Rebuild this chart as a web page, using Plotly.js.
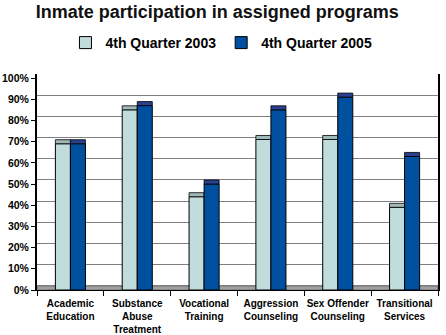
<!DOCTYPE html>
<html>
<head>
<meta charset="utf-8">
<script src="https://cdn.plot.ly/plotly-3.0.1.min.js"></script>
<style>
html,body{margin:0;padding:0;background:#fff;}
#chart{width:446px;height:335px;}
</style>
</head>
<body>
<div id="chart"></div>
<script>
// ---- data ----
const categories = [
  "Academic<br>Education",
  "Substance<br>Abuse<br>Treatment",
  "Vocational<br>Training",
  "Aggression<br>Counseling",
  "Sex Offender<br>Counseling",
  "Transitional<br>Services"
];
const seriesNames = ["4th Quarter 2003", "4th Quarter 2005"];
const q2003 = [69, 85, 44, 71, 71, 39];
const q2005 = [69, 87, 50, 85, 91, 63];
const yTickVals = [0, 10, 20, 30, 40, 50, 60, 70, 80, 90, 100];
const yTickText = ["0%", "10%", "20%", "30%", "40%", "50%", "60%", "70%", "80%", "90%", "100%"];

// ---- styling ----
const DEPTH = 1.9; // apparent 3D depth in axis units
const FONT = "Liberation Sans, Arial, sans-serif";
const lightFront = "#c0dcdc", lightTop = "#9fb8b8";
const blueFront = "#0050a0", blueTop = "#2a4090";

function frontFace(vals, name, color, group) {
  return {
    type: "bar", x: categories, y: vals, name: name, offsetgroup: group,
    marker: {color: color, line: {color: "#000", width: 1}},
    hoverinfo: "skip"
  };
}
function topFace(vals, color, group) {
  return {
    type: "bar", x: categories, y: vals.map(() => DEPTH), base: vals,
    offsetgroup: group, showlegend: false,
    marker: {color: color, line: {color: "#000", width: 0.8}},
    hoverinfo: "skip"
  };
}

const traces = [
  frontFace(q2003, seriesNames[0], lightFront, "a"),
  topFace(q2003, lightTop, "a"),
  frontFace(q2005, seriesNames[1], blueFront, "b"),
  topFace(q2005, blueTop, "b")
];

const layout = {
  width: 446, height: 335,
  margin: {l: 37, r: 8, t: 74, b: 45},
  paper_bgcolor: "#fff", plot_bgcolor: "rgba(0,0,0,0)",
  font: {family: FONT, color: "#000", size: 10},
  title: {
    text: "Inmate participation in assigned programs",
    font: {family: FONT, size: 18, weight: "bold", color: "#111"},
    x: 0.487, xref: "container", xanchor: "center",
    y: 1 - 12 / 335, yref: "container", yanchor: "middle"
  },
  showlegend: true,
  legend: {
    orientation: "h", x: 0.46, xanchor: "center", y: 1.1435, yanchor: "middle",
    font: {family: FONT, size: 14, weight: "bold", color: "#000"},
    itemwidth: 30, tracegroupgap: 0, traceorder: "normal"
  },
  barmode: "group", bargap: 0.55, bargroupgap: 0,
  xaxis: {
    type: "category", tickson: "boundaries", ticks: "outside", ticklen: 5,
    tickcolor: "#000", showline: true, linecolor: "#000", linewidth: 1,
    showgrid: false, fixedrange: true, tickangle: 0, automargin: false,
    ticklabelstandoff: 4,
    tickfont: {family: FONT, size: 10, weight: "bold", color: "#000"}
  },
  yaxis: {
    range: [0, 101.9], tickvals: yTickVals, ticktext: yTickText,
    ticks: "outside", ticklen: 4, tickcolor: "#000", tickwidth: 1,
    showline: true, linecolor: "#000", linewidth: 2,
    showgrid: false, zeroline: false, fixedrange: true,
    tickfont: {family: FONT, size: 10.5, weight: "bold", color: "#000"}
  },
  yaxis2: {
    overlaying: "y", side: "right", range: [-1.9, 100], tickvals: yTickVals,
    showticklabels: false, ticks: "", showgrid: true, gridcolor: "#808080", gridwidth: 1,
    showline: true, linecolor: "#000", linewidth: 1.5, zeroline: false, fixedrange: true
  },
  shapes: [{
    type: "rect", xref: "paper", yref: "y", x0: 0, x1: 1, y0: 0, y1: DEPTH,
    fillcolor: "#a0a0a0", line: {color: "#707070", width: 1}, layer: "between"
  }]
};

// invisible helper so the overlay axis is rendered
traces.push({type: "scatter", x: [categories[0]], y: [null], yaxis: "y2", showlegend: false, hoverinfo: "skip"});

Plotly.newPlot("chart", traces, layout, {displayModeBar: false, staticPlot: true});
</script>
</body>
</html>
